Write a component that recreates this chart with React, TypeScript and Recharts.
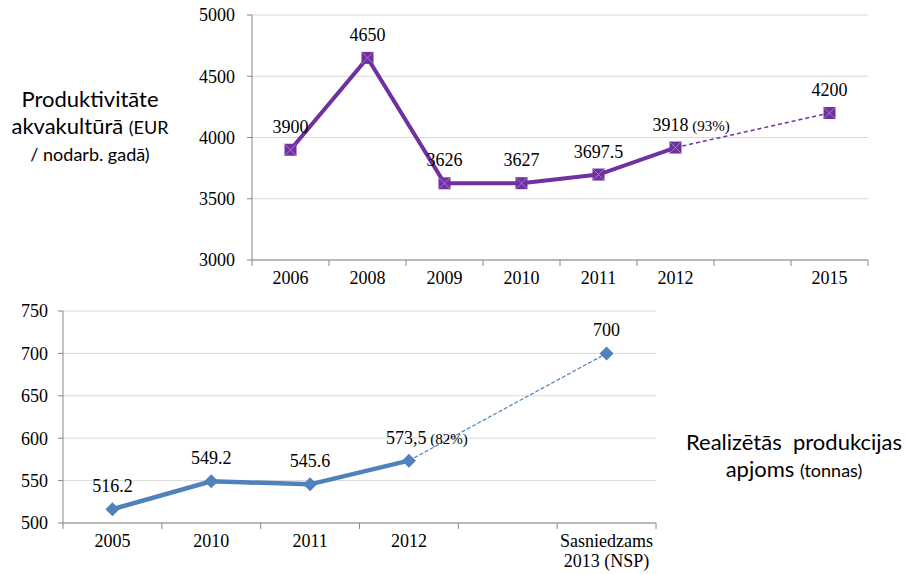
import React from 'react'
import { LineChart, Line, XAxis, YAxis, CartesianGrid } from 'recharts'

// top chart: productivity
const topYears = ['2006', '2008', '2009', '2010', '2011', '2012', '', '2015']
const topActual = [3900, 4650, 3626, 3627, 3697.5, 3918, null, null]
const topTarget = [null, null, null, null, null, 3918, null, 4200]
const topLabels = ['3900', '4650', '3626', '3627', '3697.5', '3918', '', '4200']
const topNotes = ['', '', '', '', '', '(93%)', '', '']
const topTicks = [3000, 3500, 4000, 4500, 5000]

// bottom chart: sold production
const bottomYears = ['2005', '2010', '2011', '2012', '', 'Sasniedzams\n2013 (NSP)']
const bottomActual = [516.2, 549.2, 545.6, 573.5, null, null]
const bottomTarget = [null, null, null, 573.5, null, 700]
const bottomLabels = ['516.2', '549.2', '545.6', '573,5', '', '700']
const bottomNotes = ['', '', '', '(82%)', '', '']
const bottomTicks = [500, 550, 600, 650, 700, 750]

const topData = topYears.map((year, i) => ({ year, actual: topActual[i], target: topTarget[i] }))
const bottomData = bottomYears.map((year, i) => ({ year, actual: bottomActual[i], target: bottomTarget[i] }))

const PURPLE = '#7030A0'
const BLUE = '#4F81BD'
const GRID = '#D9D9D9'
const AXIS = '#868686'
const SERIF = '"Liberation Serif", "Times New Roman", serif'
const SANS = 'Lato, "Open Sans", sans-serif'

const TOP_BAND = 616 / topYears.length
const BOTTOM_BAND = 593 / bottomYears.length

const makeTick = (band: number, count: number) => (props: any) => {
  const { x, y, payload, index } = props
  const value = String(payload.value)
  const lines = value.split('\n')
  return (
    <g>
      <line x1={x - band / 2} x2={x - band / 2} y1={y - 6} y2={y} stroke={AXIS} />
      {index === count - 1 && (
        <line x1={x + band / 2} x2={x + band / 2} y1={y - 6} y2={y} stroke={AXIS} />
      )}
      {value && (
        <text x={x} y={y + 18} textAnchor="middle" fontFamily={SERIF} fontSize={18} fill="#000">
          {lines.map((l, i) => (
            <tspan key={i} x={x} dy={i === 0 ? 0 : 20}>{l}</tspan>
          ))}
        </text>
      )}
    </g>
  )
}

const makeLabel = (labels: string[], notes: string[], only?: number[]) => (props: any) => {
  const { x, y, index, value } = props
  if (x == null || y == null || value == null || !Number.isFinite(y)) return null
  if (only && !only.includes(index)) return null
  const text = labels[index]
  const note = notes[index]
  if (!text) return null
  if (note) {
    return (
      <text x={x - 23} y={y - 17} textAnchor="start" fontFamily={SERIF} fontSize={18} fill="#000">
        {text}
        <tspan fontSize={15}> {note}</tspan>
      </text>
    )
  }
  return (
    <text x={x} y={y - 17} textAnchor="middle" fontFamily={SERIF} fontSize={18} fill="#000">
      {text}
    </text>
  )
}

const SquareX = (props: any) => {
  const { cx, cy, value } = props
  if (cx == null || cy == null || value == null) return <g />
  const s = 6
  return (
    <g>
      <rect x={cx - s} y={cy - s} width={s * 2} height={s * 2} fill={PURPLE} />
      <path
        d={`M${cx - s},${cy - s}L${cx + s},${cy + s}M${cx + s},${cy - s}L${cx - s},${cy + s}`}
        stroke="#A27BC9"
        strokeWidth={1}
      />
    </g>
  )
}

const Diamond = (props: any) => {
  const { cx, cy, value } = props
  if (cx == null || cy == null || value == null) return <g />
  const s = 7
  return (
    <polygon
      points={`${cx},${cy - s} ${cx + s},${cy} ${cx},${cy + s} ${cx - s},${cy}`}
      fill={BLUE}
    />
  )
}

const yTick = { fontFamily: SERIF, fontSize: 18, fill: '#000' }

export default function App() {
  return (
    <div style={{ position: 'absolute', left: 0, top: 0, width: 906, height: 574, background: '#fff' }}>
      <div style={{ position: 'absolute', left: 0, top: 0 }}>
        <LineChart width={906} height={300} data={topData} margin={{ top: 15, right: 38, left: 202, bottom: 10 }}>
          <CartesianGrid vertical={false} stroke={GRID} />
          <XAxis
            dataKey="year"
            interval={0}
            height={30}
            padding={{ left: TOP_BAND / 2, right: TOP_BAND / 2 }}
            tickLine={false}
            tickSize={6}
            tickMargin={0}
            stroke={AXIS}
            tick={makeTick(TOP_BAND, topYears.length)}
          />
          <YAxis
            width={50}
            domain={[3000, 5000]}
            ticks={topTicks}
            tickSize={5}
            tickMargin={12}
            stroke={AXIS}
            tick={yTick}
          />
          <Line
            dataKey="target"
            stroke={PURPLE}
            strokeWidth={1.5}
            strokeDasharray="4 3"
            connectNulls
            dot={(p: any) => (p.index === 7 ? <SquareX key={p.index} {...p} /> : <g key={p.index} />)}
            label={makeLabel(topLabels, topNotes, [7])}
            isAnimationActive={false}
          />
          <Line
            dataKey="actual"
            stroke={PURPLE}
            strokeWidth={4}
            dot={(p: any) => <SquareX key={p.index} {...p} />}
            label={makeLabel(topLabels, topNotes, [0, 1, 2, 3, 4, 5])}
            isAnimationActive={false}
          />
        </LineChart>
      </div>

      <div style={{ position: 'absolute', left: 0, top: 290 }}>
        <LineChart width={906} height={284} data={bottomData} margin={{ top: 21, right: 250, left: 13, bottom: 6 }}>
          <CartesianGrid vertical={false} stroke={GRID} />
          <XAxis
            dataKey="year"
            interval={0}
            height={45}
            padding={{ left: BOTTOM_BAND / 2, right: BOTTOM_BAND / 2 }}
            tickLine={false}
            tickSize={6}
            tickMargin={0}
            stroke={AXIS}
            tick={makeTick(BOTTOM_BAND, bottomYears.length)}
          />
          <YAxis
            width={50}
            domain={[500, 750]}
            ticks={bottomTicks}
            tickSize={5}
            tickMargin={10}
            stroke={AXIS}
            tick={yTick}
          />
          <Line
            dataKey="target"
            stroke={BLUE}
            strokeWidth={1.2}
            strokeDasharray="4 2"
            connectNulls
            dot={(p: any) => (p.index === 5 ? <Diamond key={p.index} {...p} /> : <g key={p.index} />)}
            label={makeLabel(bottomLabels, bottomNotes, [5])}
            isAnimationActive={false}
          />
          <Line
            dataKey="actual"
            stroke={BLUE}
            strokeWidth={4.5}
            dot={(p: any) => <Diamond key={p.index} {...p} />}
            label={makeLabel(bottomLabels, bottomNotes, [0, 1, 2, 3])}
            isAnimationActive={false}
          />
        </LineChart>
      </div>

      <div
        style={{
          position: 'absolute',
          left: 0,
          top: 85,
          width: 180,
          textAlign: 'center',
          fontFamily: SANS,
          fontSize: 22,
          lineHeight: '27px',
          color: '#000',
        }}
      >
        <div>Produktivitāte</div>
        <div>
          akvakultūrā <span style={{ fontSize: 18 }}>(EUR</span>
        </div>
        <div style={{ fontSize: 18 }}>/ nodarb. gadā)</div>
      </div>

      <div
        style={{
          position: 'absolute',
          left: 680,
          top: 428,
          width: 228,
          textAlign: 'center',
          fontFamily: SANS,
          fontSize: 22,
          lineHeight: '27px',
          color: '#000',
          whiteSpace: 'pre',
        }}
      >
        <div>Realizētās  produkcijas</div>
        <div>
          apjoms <span style={{ fontSize: 18 }}>(tonnas)</span>
        </div>
      </div>
    </div>
  )
}
